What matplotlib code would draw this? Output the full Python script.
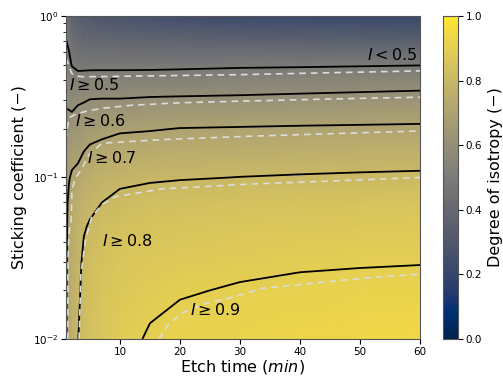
import matplotlib
matplotlib.use("Agg")
import matplotlib.pyplot as plt
import numpy as np

# etch time (min) and sticking coefficient (-) of the grid nodes
TIMES = [1, 1.5, 2, 3, 4, 5, 7, 10, 15, 20, 30, 40, 50, 60]
STICKING = [0.01, 0.02, 0.03, 0.05, 0.07, 0.1, 0.15, 0.2, 0.3, 0.5, 0.7, 1.0]

# degree of isotropy, one list per etch time, from s=0.01 up to s=1
ISO_BY_TIME = [
    [0.690, 0.690, 0.688, 0.686, 0.684, 0.660, 0.640, 0.620, 0.590, 0.540, 0.505, 0.440],
    [0.735, 0.730, 0.725, 0.720, 0.712, 0.695, 0.650, 0.625, 0.585, 0.525, 0.480, 0.400],
    [0.765, 0.760, 0.755, 0.745, 0.735, 0.710, 0.665, 0.630, 0.575, 0.495, 0.440, 0.360],
    [0.798, 0.790, 0.785, 0.775, 0.760, 0.720, 0.675, 0.640, 0.590, 0.475, 0.415, 0.330],
    [0.825, 0.815, 0.810, 0.795, 0.775, 0.745, 0.695, 0.650, 0.595, 0.475, 0.405, 0.320],
    [0.840, 0.835, 0.830, 0.805, 0.785, 0.755, 0.710, 0.660, 0.603, 0.475, 0.400, 0.310],
    [0.860, 0.855, 0.845, 0.825, 0.800, 0.770, 0.720, 0.675, 0.605, 0.475, 0.395, 0.290],
    [0.885, 0.870, 0.860, 0.840, 0.815, 0.785, 0.730, 0.690, 0.605, 0.475, 0.390, 0.275],
    [0.905, 0.885, 0.870, 0.850, 0.830, 0.790, 0.735, 0.695, 0.610, 0.475, 0.380, 0.260],
    [0.915, 0.895, 0.875, 0.855, 0.835, 0.795, 0.740, 0.702, 0.612, 0.478, 0.375, 0.245],
    [0.925, 0.905, 0.885, 0.860, 0.840, 0.801, 0.745, 0.705, 0.615, 0.485, 0.365, 0.230],
    [0.930, 0.910, 0.893, 0.865, 0.845, 0.805, 0.750, 0.708, 0.620, 0.488, 0.360, 0.220],
    [0.935, 0.915, 0.895, 0.870, 0.850, 0.808, 0.755, 0.710, 0.625, 0.492, 0.355, 0.215],
    [0.940, 0.920, 0.897, 0.875, 0.855, 0.810, 0.760, 0.712, 0.630, 0.496, 0.350, 0.210],
]

LEVELS = [0.5, 0.6, 0.7, 0.8, 0.9]

# model boundaries (dashed), time and sticking coefficient
MODEL_05_T = [1.0, 1.5, 2.0, 2.5, 4, 10, 20, 30, 45, 60]
MODEL_05_S = [0.55, 0.49, 0.44, 0.425, 0.42, 0.423, 0.428, 0.433, 0.445, 0.457]
MODEL_06_T = [1.0, 1.3, 1.6, 2.5, 4, 7, 12, 20, 32, 45, 60]
MODEL_06_S = [0.17, 0.21, 0.235, 0.245, 0.255, 0.268, 0.28, 0.29, 0.298, 0.306, 0.314]
MODEL_07_T = [1.3, 1.35, 1.5, 1.9, 2.0, 2.6, 3.7, 4.8, 7.0, 17.7, 31.6, 60]
MODEL_07_S = [0.01, 0.03, 0.045, 0.055, 0.084, 0.099, 0.114, 0.138, 0.163, 0.172, 0.18, 0.194]
MODEL_08_T = [3.2, 3.5, 4.2, 5.3, 7, 9.3, 17, 31.6, 45, 60]
MODEL_08_S = [0.01, 0.025, 0.04, 0.057, 0.068, 0.076, 0.085, 0.091, 0.095, 0.1]
MODEL_09_T = [16.5, 18, 20.4, 24, 28.2, 33.8, 39.4, 50.5, 60]
MODEL_09_S = [0.01, 0.0122, 0.0145, 0.0165, 0.0179, 0.0206, 0.0216, 0.0238, 0.0252]

LABELS = [r"$I \geq 0.5$", r"$I \geq 0.6$", r"$I \geq 0.7$", r"$I \geq 0.8$", r"$I \geq 0.9$"]
LABEL_T = [1.6, 2.6, 4.5, 7.0, 21.7]
LABEL_S = [0.374, 0.224, 0.132, 0.0404, 0.0151]

fig = plt.figure(figsize=(5.03, 3.8), dpi=100)
ax = fig.add_axes([0.131, 0.108, 0.704, 0.850])
cax = fig.add_axes([0.881, 0.108, 0.030, 0.850])

tt, ss = np.meshgrid(TIMES, STICKING)
iso = np.array(ISO_BY_TIME).T
mesh = ax.pcolormesh(tt, ss, iso, cmap="cividis", vmin=0, vmax=1, shading="gouraud")
ax.contour(tt, ss, iso, levels=LEVELS, colors="black", linewidths=1.3)

dash = dict(color="#dcdcdc", linewidth=1.2, linestyle=(0, (4, 3)))
for t, s in [(MODEL_05_T, MODEL_05_S), (MODEL_06_T, MODEL_06_S), (MODEL_07_T, MODEL_07_S),
             (MODEL_08_T, MODEL_08_S), (MODEL_09_T, MODEL_09_S)]:
    ax.plot(t, s, **dash)

for text, t, s in zip(LABELS, LABEL_T, LABEL_S):
    ax.text(t, s, text, fontsize=11.5, ha="left", va="center")
ax.text(59.6, 0.574, r"$I < 0.5$", fontsize=11.5, ha="right", va="center")

ax.set_yscale("log")
ax.set_xlim(1, 60)
ax.set_ylim(0.01, 1)
ax.set_xlabel("Etch time ($min$)", fontsize=11.5, labelpad=1)
ax.set_ylabel("Sticking coefficient (−)", fontsize=11.5)
ax.tick_params(labelsize=7.5, pad=2)
ax.tick_params(which="minor", length=2)
for spine in ax.spines.values():
    spine.set_color("#555555")

cb = fig.colorbar(mesh, cax=cax)
cb.set_ticks([0, 0.2, 0.4, 0.6, 0.8, 1.0])
cb.ax.tick_params(labelsize=7.5, pad=2)
cb.set_label("Degree of isotropy (−)", fontsize=11.5)
cb.outline.set_edgecolor("#555555")

fig.savefig("out.png", dpi=100)
